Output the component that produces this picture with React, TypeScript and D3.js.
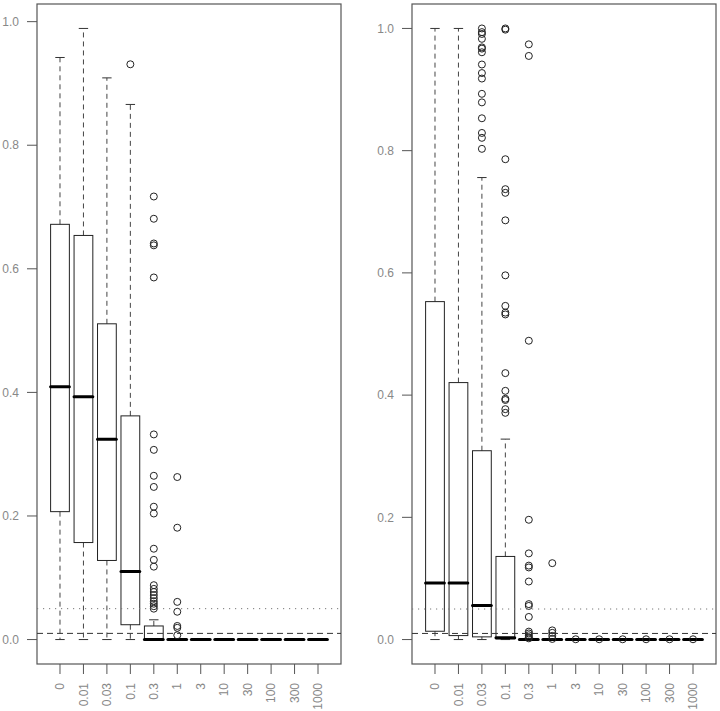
import React from "react";
import { scaleLinear, max } from "d3";

const doses = ["0", "0.01", "0.03", "0.1", "0.3", "1", "3", "10", "30", "100", "300", "1000"];
const yTicks = [0, 0.2, 0.4, 0.6, 0.8, 1.0];
const cutoffDotted = 0.05;
const cutoffDashed = 0.01;

// left panel
const leftLower = [0, 0, 0, 0, 0, 0, 0, 0, 0, 0, 0, 0];
const leftQ1 = [0.207, 0.157, 0.128, 0.024, 0, 0, 0, 0, 0, 0, 0, 0];
const leftMedian = [0.409, 0.393, 0.324, 0.11, 0, 0, 0, 0, 0, 0, 0, 0];
const leftQ3 = [0.672, 0.654, 0.511, 0.362, 0.022, 0, 0, 0, 0, 0, 0, 0];
const leftUpper = [0.942, 0.989, 0.909, 0.866, 0.032, 0, 0, 0, 0, 0, 0, 0];
const leftOutliers = [
  [],
  [],
  [],
  [0.931],
  [0.717, 0.681, 0.641, 0.638, 0.586, 0.332, 0.307, 0.265, 0.247, 0.215, 0.204, 0.147, 0.129, 0.118,
    0.088, 0.082, 0.077, 0.072, 0.067, 0.062, 0.058, 0.054, 0.05],
  [0.263, 0.181, 0.061, 0.045, 0.022, 0.019, 0.007],
  [], [], [], [], [], [],
];

// right panel
const rightLower = [0, 0, 0, 0, 0, 0, 0, 0, 0, 0, 0, 0];
const rightQ1 = [0.0136, 0.0065, 0.0044, 0.001, 0, 0, 0, 0, 0, 0, 0, 0];
const rightMedian = [0.0926, 0.0926, 0.0556, 0.003, 0, 0, 0, 0, 0, 0, 0, 0];
const rightQ3 = [0.553, 0.4205, 0.309, 0.136, 0.001, 0, 0, 0, 0, 0, 0, 0];
const rightUpper = [1.0, 1.0, 0.756, 0.328, 0.002, 0, 0, 0, 0, 0, 0, 0];
const rightOutliers = [
  [],
  [],
  [1.0, 0.994, 0.991, 0.983, 0.969, 0.967, 0.961, 0.941, 0.927, 0.918, 0.893, 0.879, 0.853, 0.829, 0.821, 0.803],
  [1.0, 0.998, 0.786, 0.737, 0.731, 0.686, 0.596, 0.546, 0.535, 0.532, 0.436, 0.407, 0.394, 0.392, 0.377, 0.371],
  [0.974, 0.955, 0.489, 0.196, 0.141, 0.121, 0.118, 0.095, 0.058, 0.055, 0.037, 0.013, 0.01, 0.007, 0.004, 0.002],
  [0.125, 0.015, 0.011, 0.006, 0.001],
  [0.0005], [0.0005], [0.0005], [0.0005], [0.0005], [0.0005],
];

const font = "'Liberation Sans', Arial, Helvetica, sans-serif";
const labelColor = "#888";

function Panel({ left, lower, q1, median, q3, upper, outliers }) {
  const right = left + 304;
  const top = 4;
  const bottom = 664;

  // R style: 4% padding on both axes
  const ymax = max(upper.concat(outliers.flat()));
  const pad = ymax * 0.04;
  const y = scaleLinear().domain([-pad, ymax + pad]).range([bottom, top]);
  const n = doses.length;
  const x = scaleLinear().domain([1 - 0.5 - 0.48, n + 0.5 + 0.48]).range([left, right]);
  const boxW = (x(2) - x(1)) * 0.8;
  const capW = boxW * 0.5;

  return (
    <g>
      {/* frame */}
      <rect x={left} y={top} width={right - left} height={bottom - top} fill="none" stroke="#555" strokeWidth={1.2} />

      {/* y axis */}
      {yTicks.map((t) => (
        <g key={t}>
          <line x1={left - 10} x2={left} y1={y(t)} y2={y(t)} stroke="#555" />
          <text x={left - 18} y={y(t)} dy="0.35em" textAnchor="end" fontSize={12} fill={labelColor} fontFamily={font}>
            {t.toFixed(1)}
          </text>
        </g>
      ))}

      {/* x axis */}
      {doses.map((d, i) => (
        <g key={d}>
          <line x1={x(i + 1)} x2={x(i + 1)} y1={bottom} y2={bottom + 10} stroke="#555" />
          <text
            transform={`translate(${x(i + 1)},${bottom + 19}) rotate(-90)`}
            dy="0.35em"
            textAnchor="end"
            fontSize={12}
            fill={labelColor}
            fontFamily={font}
          >
            {d}
          </text>
        </g>
      ))}

      {/* boxes */}
      {doses.map((d, i) => {
        const cx = x(i + 1);
        return (
          <g key={"b" + d}>
            <line x1={cx} x2={cx} y1={y(q3[i])} y2={y(upper[i])} stroke="#444" strokeDasharray="5,4" />
            <line x1={cx} x2={cx} y1={y(q1[i])} y2={y(lower[i])} stroke="#444" strokeDasharray="5,4" />
            <line x1={cx - capW / 2} x2={cx + capW / 2} y1={y(upper[i])} y2={y(upper[i])} stroke="#333" />
            <line x1={cx - capW / 2} x2={cx + capW / 2} y1={y(lower[i])} y2={y(lower[i])} stroke="#333" />
            <rect
              x={cx - boxW / 2}
              y={y(q3[i])}
              width={boxW}
              height={Math.max(0, y(q1[i]) - y(q3[i]))}
              fill="none"
              stroke="#222"
            />
            <line
              x1={cx - boxW / 2}
              x2={cx + boxW / 2}
              y1={y(median[i])}
              y2={y(median[i])}
              stroke="#000"
              strokeWidth={3}
              strokeLinecap="round"
            />
            {outliers[i].map((v, j) => (
              <circle key={j} cx={cx} cy={y(v)} r={3.5} fill="none" stroke="#222" strokeWidth={1} />
            ))}
          </g>
        );
      })}

      {/* reference lines */}
      <line x1={left} x2={right} y1={y(cutoffDotted)} y2={y(cutoffDotted)} stroke="#777" strokeDasharray="1.2,4.8" />
      <line x1={left} x2={right} y1={y(cutoffDashed)} y2={y(cutoffDashed)} stroke="#333" strokeDasharray="6,4" />
    </g>
  );
}

export default function App() {
  return (
    <svg width={720} height={711} style={{ position: "absolute", left: 0, top: 0, background: "#fff" }}>
      <rect width={720} height={711} fill="#fff" />
      <Panel left={37} lower={leftLower} q1={leftQ1} median={leftMedian} q3={leftQ3} upper={leftUpper} outliers={leftOutliers} />
      <Panel left={412} lower={rightLower} q1={rightQ1} median={rightMedian} q3={rightQ3} upper={rightUpper} outliers={rightOutliers} />
    </svg>
  );
}
